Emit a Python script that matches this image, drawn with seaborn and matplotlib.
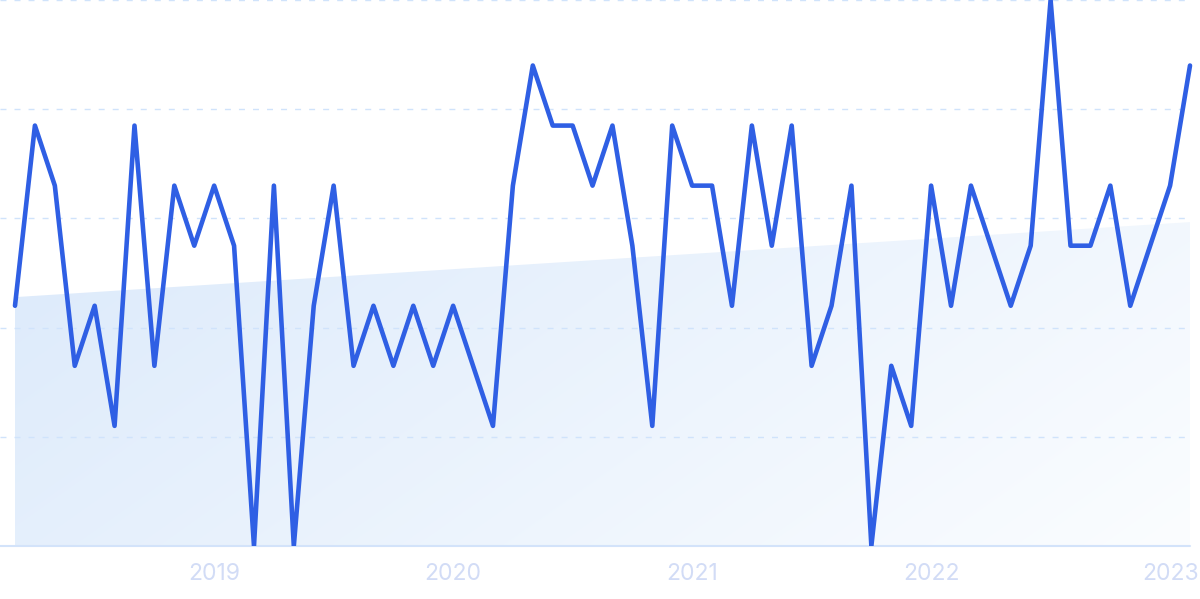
import numpy as np
import pandas as pd
import matplotlib
matplotlib.use("Agg")
import matplotlib.pyplot as plt
import seaborn as sns
from matplotlib.patches import Polygon

# ---- data (monthly, Mar 2018 .. Feb 2023), values 0..100 ----
months = pd.date_range("2018-03-01", periods=60, freq="MS")
values = [44, 77, 66, 33, 44, 22, 77, 33, 66, 55,
          66, 55, 0, 66, 0, 44, 66, 33, 44, 33,
          44, 33, 44, 33, 22, 66, 88, 77, 77, 66,
          77, 55, 22, 77, 66, 66, 44, 77, 55, 77,
          33, 44, 66, 0, 33, 22, 66, 44, 66, 55,
          44, 55, 100, 55, 55, 66, 44, 55, 66, 88]
tick_labels = ["2019", "2020", "2021", "2022", "2023"]

df = pd.DataFrame({"idx": np.arange(len(months)), "value": values, "month": months})
tick_pos = [int(df.index[(df.month.dt.year == int(y)) & (df.month.dt.month == 1)][0]) for y in tick_labels]

sns.set_theme(style="white")
plt.rcParams["font.family"] = ["Inter", "DejaVu Sans"]

fig = plt.figure(figsize=(12, 5.99), dpi=100)
ax = fig.add_axes([0, 53 / 599, 1, 546 / 599])

px_per = 1175 / 59
xl = -15 / px_per
xr = 59 + 10 / px_per
ax.set_xlim(xl, xr)
ax.set_ylim(0, 100)

# trend (linear regression) gradient fill
coef = np.polyfit(df.idx, df.value, 1)
x0, x1 = 0, len(values) - 1
y0, y1 = np.polyval(coef, x0), np.polyval(coef, x1)
poly = Polygon([(x0, 0), (x0, y0), (x1, y1), (x1, 0)], closed=True,
               facecolor="none", edgecolor="none")
ax.add_patch(poly)
nx, ny = 300, 150
xx, yy = np.meshgrid(np.linspace(0, 1, nx), np.linspace(0, 1, ny))
t = np.clip(0.72 * xx + 0.28 * (1 - yy), 0, 1)  # yy: 0 bottom .. 1 top
c0 = np.array([220, 234, 251]) / 255
c1 = np.array([251, 253, 255]) / 255
img = c0[None, None, :] * (1 - t[..., None]) + c1[None, None, :] * t[..., None]
im = ax.imshow(img, extent=[x0, x1, 0, max(y0, y1)], origin="lower",
               aspect="auto", zorder=2, interpolation="bilinear")
im.set_clip_path(poly)

# gridlines (above the fill)
grid_col = "#d0e3fb"
for g in [20, 40, 60, 80, 100]:
    ax.axhline(g, xmin=0, xmax=1185 / 1200, color=grid_col, lw=1.0,
               ls=(0, (4.3, 5.8)), zorder=3, clip_on=False)

# bottom axis line
ax.axhline(0, xmin=0, xmax=1190 / 1200, color="#d3e3fa", lw=1.5, zorder=3, clip_on=False)

# main line
sns.lineplot(data=df, x="idx", y="value", ax=ax, color="#2f5fe4", lw=3.3,
             zorder=5, clip_on=True)

for s in ax.spines.values():
    s.set_visible(False)
ax.set_xlabel("")
ax.set_ylabel("")
ax.set_yticks([])
ax.set_xticks(tick_pos)
ax.set_xticklabels(tick_labels)
ax.tick_params(axis="x", length=0, pad=12, labelsize=16.5, labelcolor="#d2dcf6")
ax.set_facecolor("none")
fig.patch.set_facecolor("white")

fig.savefig("out.png", dpi=100, facecolor="white")
